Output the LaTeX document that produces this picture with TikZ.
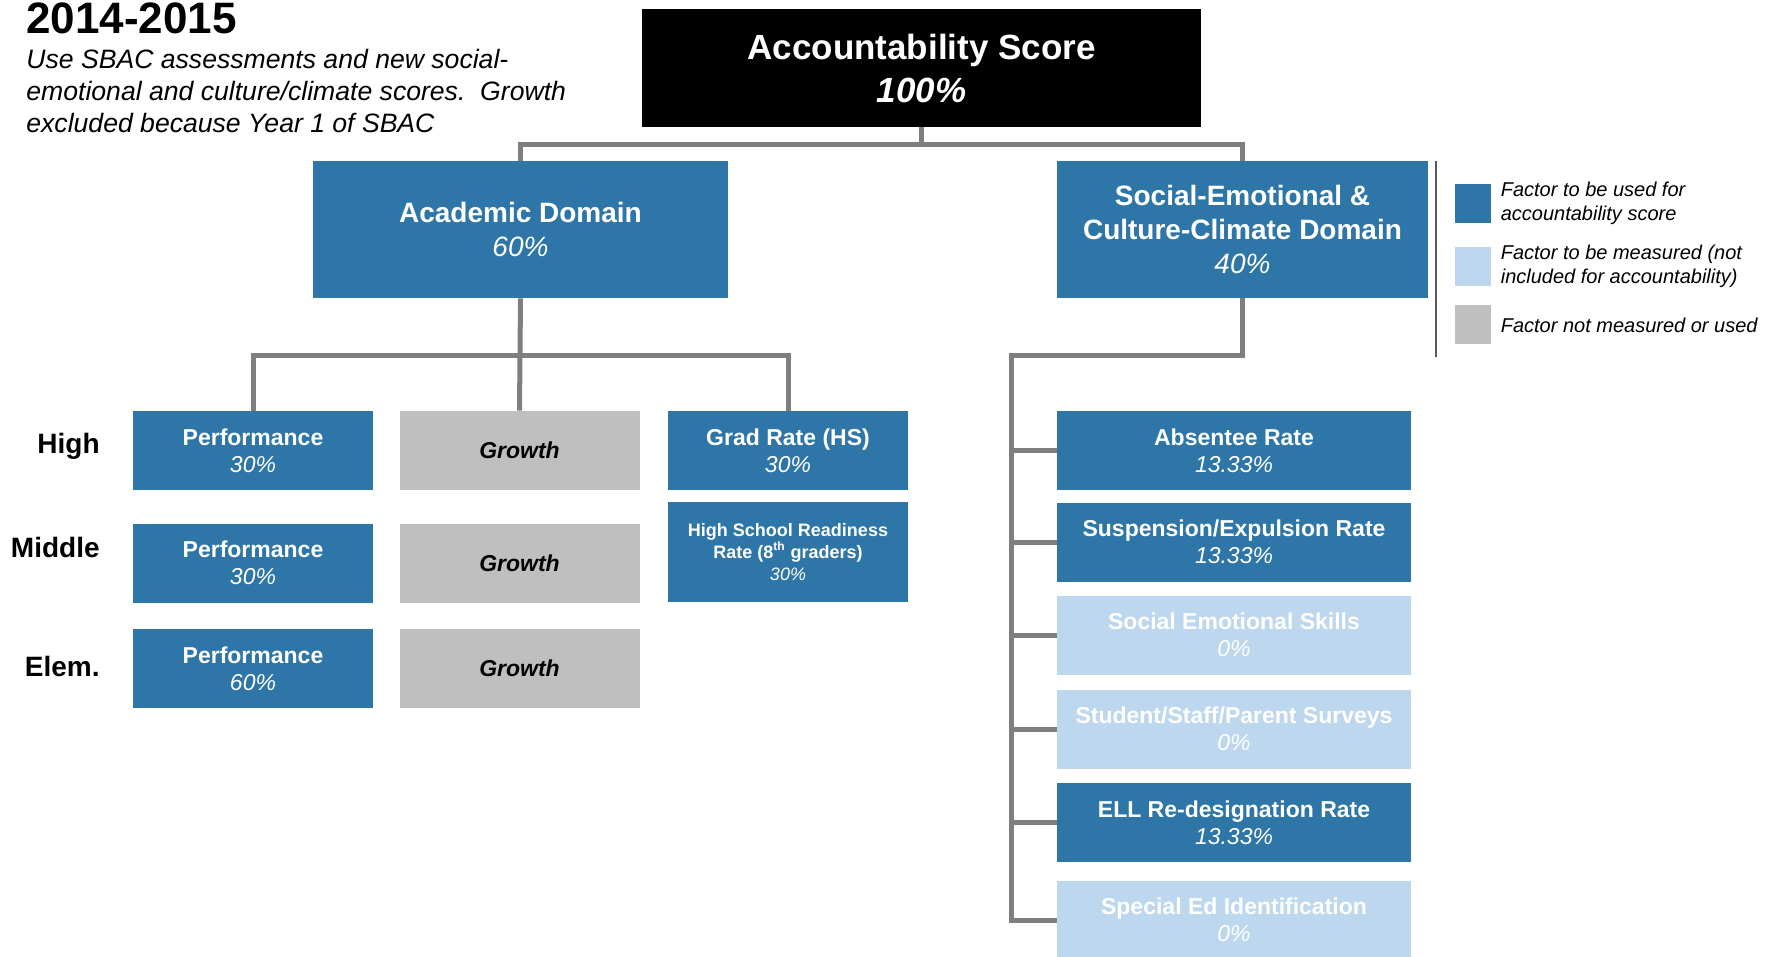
\documentclass[tikz,border=0pt]{standalone}
\usepackage{fontspec}
\setmainfont{Liberation Sans}
\usetikzlibrary{positioning}
\definecolor{dblue}{HTML}{2E75A8}
\definecolor{lblue}{HTML}{BDD7EE}
\definecolor{lgray}{HTML}{BFBFBF}
\definecolor{cgray}{HTML}{7F7F7F}

\begin{document}
\begin{tikzpicture}[x=0.5pt,y=-0.5pt,
    box/.style={rectangle,inner sep=0pt,align=center,minimum width=120pt,minimum height=39.5pt,
      text=white,font=\fontsize{11.5}{13.5}\selectfont\bfseries},
    used/.style={box,fill=dblue},
    measured/.style={box,fill=lblue},
    unused/.style={box,fill=lgray,text=black,font=\fontsize{11.5}{13.5}\selectfont\bfseries\itshape},
    side/.style={minimum width=177pt},
    conn/.style={draw=cgray,line width=2.5pt},
    lvl/.style={anchor=east,inner sep=0pt,font=\fontsize{14}{17}\selectfont\bfseries},
    key/.style={rectangle,inner sep=0pt,minimum width=18pt,minimum height=19.5pt},
    legtext/.style={inner sep=0pt,align=left,font=\fontsize{10}{12}\selectfont\itshape}]
  \useasboundingbox (0,0) rectangle (1778,957);

  \node[anchor=base west,inner sep=0pt,font=\fontsize{22}{26}\selectfont\bfseries] (year) at (26,34) {2014-2015};
  \node[anchor=west,inner sep=0pt,align=left,font=\fontsize{13.3}{16}\selectfont\itshape] (note) at (26,91)
    {Use SBAC assessments and new social-\\emotional and culture/climate scores.\ \ Growth\\excluded because Year 1 of SBAC};

  \node[box,fill=black,minimum width=279.5pt,minimum height=59pt,font=\fontsize{17.5}{21.5}\selectfont\bfseries]
    (acc) at (921.5,68) {Accountability Score\\\itshape 100\%};
  \node[used,minimum width=207.5pt,minimum height=68.5pt,font=\fontsize{14}{17}\selectfont\bfseries]
    (acad) at (520.5,229.5) {Academic Domain\\\mdseries\itshape 60\%};
  \node[used,minimum width=185.5pt,minimum height=68.5pt,font=\fontsize{14}{17}\selectfont\bfseries]
    (sed) at (1242.5,229.5) {Social-Emotional \&\\Culture-Climate Domain\\\mdseries\itshape 40\%};

  \node[lvl] (high) at (100,446) {High};
  \node[lvl] (middle) at (100,547) {Middle};
  \node[lvl] (elem) at (100,666) {Elem.};

  \node[used] (perfH) at (253,450.5) {Performance\\\mdseries\itshape 30\%};
  \node[unused] (growH) at (519.5,450.5) {Growth};
  \node[used] (gradH) at (788,450.5) {Grad Rate (HS)\\\mdseries\itshape 30\%};
  \node[used] (perfM) at (253,563) {Performance\\\mdseries\itshape 30\%};
  \node[unused] (growM) at (519.5,563) {Growth};
  \node[used,minimum height=50pt,font=\fontsize{9}{10.8}\selectfont\bfseries]
    (hsr) at (788,552) {High School Readiness\\Rate (8\textsuperscript{th} graders)\\\mdseries\itshape 30\%};
  \node[used] (perfE) at (253,668.5) {Performance\\\mdseries\itshape 60\%};
  \node[unused] (growE) at (519.5,668.5) {Growth};

  \node[used,side] (abs) at (1234,450.5) {Absentee Rate\\\mdseries\itshape 13.33\%};
  \node[used,side] (susp) at (1234,542) {Suspension/Expulsion Rate\\\mdseries\itshape 13.33\%};
  \node[measured,side] (ses) at (1234,635) {Social Emotional Skills\\\mdseries\itshape 0\%};
  \node[measured,side] (surv) at (1234,729) {Student/Staff/Parent Surveys\\\mdseries\itshape 0\%};
  \node[used,side] (ell) at (1234,822.5) {ELL Re-designation Rate\\\mdseries\itshape 13.33\%};
  \node[measured,side] (sped) at (1234,920) {Special Ed Identification\\\mdseries\itshape 0\%};

  \node[key,fill=dblue] (key1) at (1473,203.5) {};
  \node[key,fill=lblue] (key2) at (1473,266.5) {};
  \node[key,fill=lgray] (key3) at (1473,325) {};
  \node[legtext,right=4.5pt of key1] (leg1) {Factor to be used for\\accountability score};
  \node[legtext,right=4.5pt of key2] (leg2) {Factor to be measured (not\\included for accountability)};
  \node[legtext,right=4.5pt of key3] (leg3) {Factor not measured or used};
  \draw[line width=1pt,black!65] (1436,161) -- (1436,357);

  \coordinate (accbus) at ([yshift=-8.5pt]acc.south);
  \coordinate (acadbus) at ([yshift=-28.5pt]acad.south);
  \coordinate (sedbus) at ([yshift=-28.5pt]sed.south);
  \path (abs.west |- sedbus) ++(-22.75pt,0) coordinate (spine);
  \draw[conn] (acc.south) -- (accbus);
  \draw[conn] (acad.north) |- (accbus) -| (sed.north);
  \draw[conn] (acad.south) -- (growH.north);
  \draw[conn] (perfH.north) |- (acadbus) -| (gradH.north);
  \draw[conn] (sed.south) |- (spine) |- (sped.west);
  \foreach \f in {abs,susp,ses,surv,ell}
    \draw[conn] (spine |- \f.west) -- (\f.west);
\end{tikzpicture}
\end{document}
